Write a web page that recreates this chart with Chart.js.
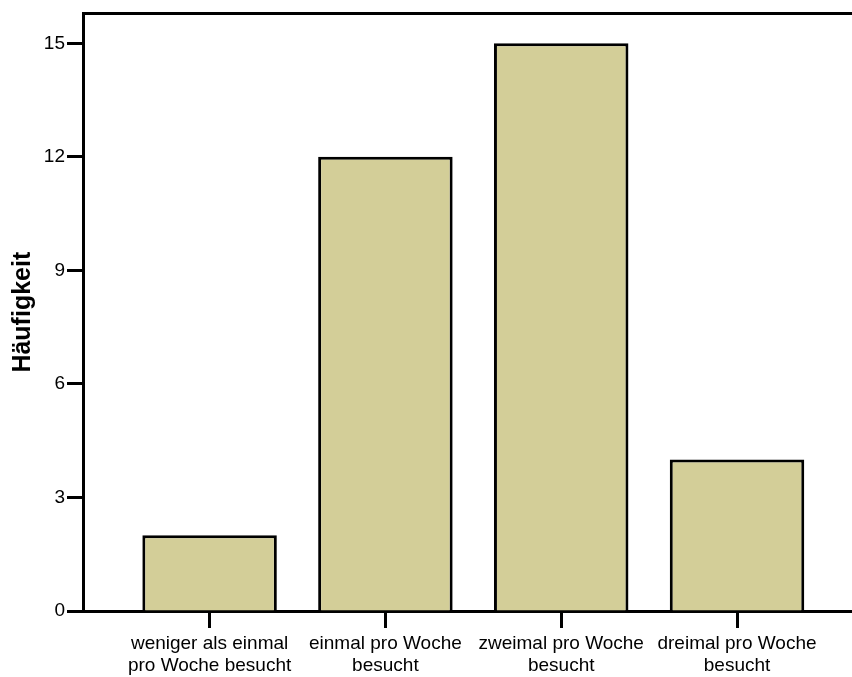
<!DOCTYPE html>
<html>
<head>
<meta charset="utf-8">
<script src="https://cdn.jsdelivr.net/npm/chart.js@4"></script>
<style>
  html, body { margin: 0; padding: 0; background: #fff; }
  #wrap { width: 852px; height: 677px; }
</style>
</head>
<body>
<div id="wrap"><canvas id="barChart"></canvas></div>
<script>
var categories = [
  ['weniger als einmal', 'pro Woche besucht'],
  ['einmal pro Woche', 'besucht'],
  ['zweimal pro Woche', 'besucht'],
  ['dreimal pro Woche', 'besucht']
];
var counts = [2, 12, 15, 4];
var yTicks = [0, 3, 6, 9, 12, 15];
var yMax = 15.79;

var topBorder = {
  id: 'topBorder',
  afterDraw: function (chart) {
    var a = chart.chartArea, c = chart.ctx;
    c.save();
    c.strokeStyle = '#000';
    c.lineWidth = 3;
    c.beginPath();
    c.moveTo(a.left - 1, a.top);
    c.lineTo(a.right, a.top);
    c.stroke();
    c.restore();
  }
};

var ctx = document.getElementById('barChart');

var myChart = new Chart(ctx, {
    type: 'bar',
    data: {
      datasets: [{
        label: 'Häufigkeit',
        data: counts.map(function (v, i) { return { x: i, y: v }; }),
        backgroundColor: 'rgb(211,206,152)',
        borderColor: '#000',
        borderWidth: 3,
        categoryPercentage: 1,
        barPercentage: 0.765
      }]
    },
    options: {
      responsive: true,
      maintainAspectRatio: false,
      animation: false,
      layout: { padding: { top: 12, right: 0, left: 0, bottom: 0 } },
      plugins: {
        legend: { display: false },
        tooltip: { enabled: false }
      },
      scales: {
        x: {
          type: 'linear',
          min: -0.72,
          max: 3.654,
          offset: false,
          afterFit: function (s) { s.height = 66; },
          afterBuildTicks: function (s) {
            s.ticks = categories.map(function (c, i) { return { value: i }; });
          },
          border: { color: '#000', width: 3 },
          grid: {
            offset: false,
            drawOnChartArea: false,
            drawTicks: true,
            tickLength: 17,
            tickColor: '#000',
            tickWidth: 3
          },
          ticks: {
            color: '#000',
            maxRotation: 0,
            autoSkip: false,
            padding: 5,
            font: { family: 'Liberation Sans, Arial, sans-serif', size: 19, lineHeight: 1.16 },
            callback: function (value) { return categories[value]; }
          }
        },
        y: {
          min: 0,
          max: yMax,
          afterFit: function (s) { s.width = 83; },
          afterBuildTicks: function (s) {
            s.ticks = yTicks.map(function (v) { return { value: v }; });
          },
          border: { color: '#000', width: 3 },
          grid: {
            drawOnChartArea: false,
            drawTicks: true,
            tickLength: 16,
            tickColor: '#000',
            tickWidth: 3
          },
          ticks: {
            color: '#000',
            padding: 2,
            font: { family: 'Liberation Sans, Arial, sans-serif', size: 19 }
          },
          title: {
            display: true,
            text: 'Häufigkeit',
            color: '#000',
            padding: { top: 8, bottom: 0 },
            font: { family: 'Liberation Sans, Arial, sans-serif', size: 25, weight: 'bold' }
          }
        }
      }
    },
    plugins: [topBorder]
  });
</script>
</body>
</html>
